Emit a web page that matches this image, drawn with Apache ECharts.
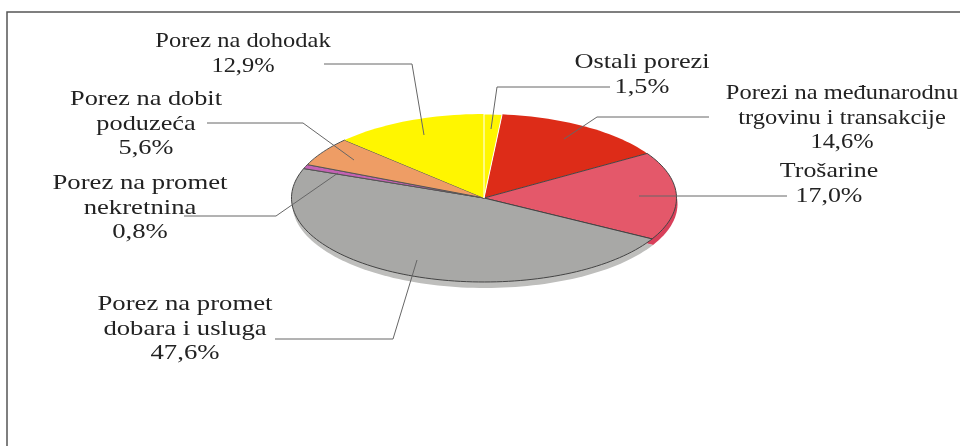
<!DOCTYPE html>
<html>
<head>
<meta charset="utf-8">
<style>
html, body { margin: 0; background: #fff; }
#chart { width: 960px; height: 446px; }
</style>
<script src="https://cdn.jsdelivr.net/npm/echarts@6/dist/echarts.min.js"></script>
</head>
<body>
<div id="chart"></div>
<script>
// clockwise from 12 o'clock
var names = [
    ['Ostali porezi'],
    ['Porezi na međunarodnu', 'trgovinu i transakcije'],
    ['Trošarine'],
    ['Porez na promet', 'dobara i usluga'],
    ['Porez na promet', 'nekretnina'],
    ['Porez na dobit', 'poduzeća'],
    ['Porez na dohodak']
];
var values = [1.5, 14.6, 17.0, 47.6, 0.8, 5.6, 12.9];

var colors = ['#FFF600', '#DD2C18', '#E4586A', '#A8A8A6', '#C462B4', '#EE9D65', '#FFF600'];
var borders = ['#fff', null, '#444', '#444', '#555', '#555', null];
var sideColors = ['#fff', '#fff', '#D8405A', '#BEBEBC', '#BEBEBC', '#BEBEBC', '#fff'];
var sliceZ = [10, 1, 2, 3, 4, 5, 6];

// centre of the first label line, per slice
var labelX = [642, 842, 829, 185, 140, 146, 243];
var labelY = [63, 94, 172, 305, 184, 100, 42];
var labelStretch = [1.29, 1.2, 1.27, 1.31, 1.31, 1.29, 1.2];
var lineGap = 24.5;

// leader lines, drawn over the pie
var leaders = [
    [[610, 87], [497, 87], [491, 129]],
    [[709, 117], [597, 117], [564, 139]],
    [[787, 196], [639, 196]],
    [[275, 339], [393, 339], [417, 260]],
    [[184, 216], [276, 216], [338, 173]],
    [[207, 123], [303, 123], [354, 160]],
    [[324, 64], [412, 64], [424, 135]]
];

var cx = 484, cy = 198, rx = 192.5, ry = 84;
var total = values.reduce(function (a, b) { return a + b; }, 0);

var sum = 0;
var sliceData = values.map(function (v, i) {
    var row = { name: names[i].join(' '), value: [sum, sum + v, i] };
    sum += v;
    return row;
});

function slicePoints(from, to, dx, dy) {
    var pts = [[cx + dx, cy + dy]];
    var steps = Math.max(2, Math.ceil((to - from) * 2));
    for (var k = 0; k <= steps; k++) {
        var a = (from + (to - from) * k / steps) / total * Math.PI * 2;
        pts.push([cx + dx + rx * Math.sin(a), cy + dy - ry * Math.cos(a)]);
    }
    return pts;
}

function renderTop(params, api) {
    var i = api.value(2);
    return {
        type: 'polygon',
        z2: sliceZ[i],
        shape: { points: slicePoints(api.value(0), api.value(1), 0, 0) },
        style: {
            fill: colors[i],
            stroke: borders[i] || colors[i],
            lineWidth: borders[i] ? 1 : 0
        }
    };
}

function renderSide(params, api) {
    var i = api.value(2);
    return {
        type: 'polygon',
        shape: { points: slicePoints(api.value(0), api.value(1), 1, 6) },
        style: { fill: sideColors[i] }
    };
}

var graphics = [
    { type: 'polyline', z: 100, shape: { points: [[7, 446], [7, 12], [960, 12]] }, style: { stroke: '#555', lineWidth: 1.5, fill: null } }
];

leaders.forEach(function (pts) {
    graphics.push({ type: 'polyline', z: 100, shape: { points: pts }, style: { stroke: '#666', lineWidth: 1, fill: null } });
});

values.forEach(function (v, i) {
    var lines = names[i].concat([v.toFixed(1).replace('.', ',') + '%']);
    lines.forEach(function (line, j) {
        graphics.push({
            type: 'text',
            z: 100,
            x: labelX[i],
            y: labelY[i] + j * lineGap,
            scaleX: labelStretch[i],
            style: {
                text: line,
                font: '20.4px "Liberation Serif"',
                fill: '#222',
                align: 'center',
                verticalAlign: 'middle'
            }
        });
    });
});

var option = {
    animation: false,
    graphic: { elements: graphics },
    series: [
        { type: 'custom', coordinateSystem: 'none', silent: true, z: 1, renderItem: renderSide, data: sliceData },
        { type: 'custom', coordinateSystem: 'none', silent: true, z: 2, renderItem: renderTop, data: sliceData }
    ]
};

var myChart = echarts.init(document.getElementById('chart'));
myChart.setOption(option);
</script>
</body>
</html>
